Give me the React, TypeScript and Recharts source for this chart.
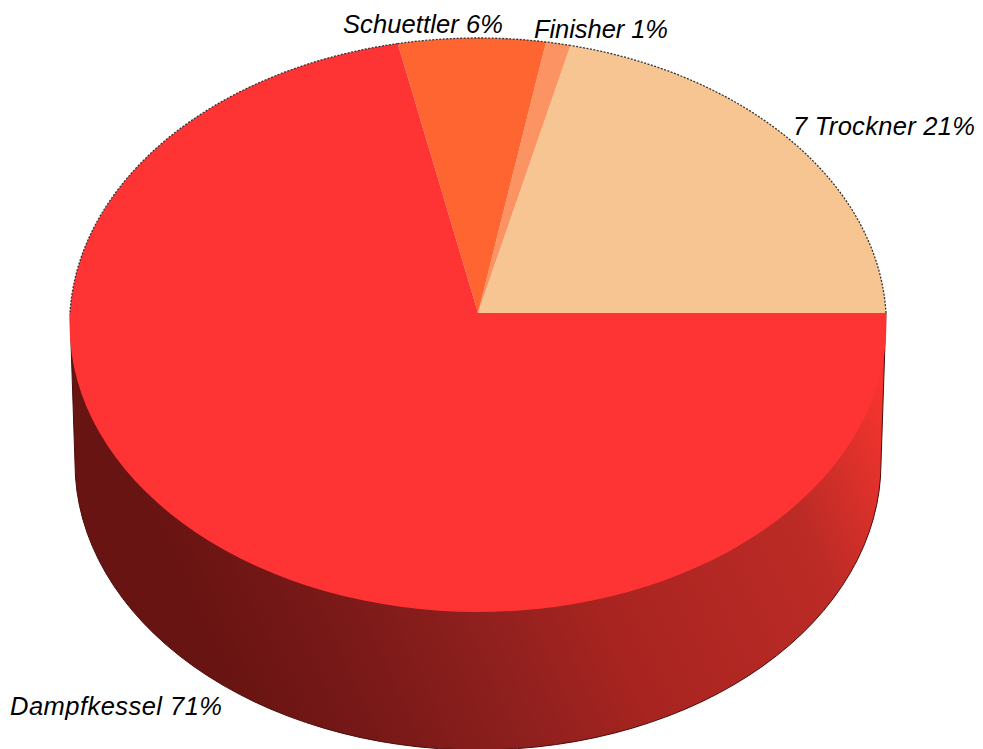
import React from 'react';
import { PieChart, Pie, Cell } from 'recharts';

const categories = ['7 Trockner', 'Finisher', 'Schuettler', 'Dampfkessel'];
const shares = [21, 1, 6, 71];
const colors = ['#f7c592', '#fc9363', '#fe6530', '#fe3333'];

const rows = categories.map((name, i) => ({ name, value: shares[i] }));

const WIDTH = 983;
const HEIGHT = 749;
const CX = 478;
const CY = 313;
const RX = 408;

// tilt of the disc: the far edge comes out a little shorter than the near edge
const TILT_RY = 286.5;
const TILT_P = 0.0418;
const TOP_RX = RX / Math.sqrt(1 - TILT_P * TILT_P);
const TOP_RY = 287;

// outline of the base of the cylinder
const BASE_CY = 463;
const BASE_RX = 403;
const BASE_RY = 287;

const labelSpots = [
  { x: 793, y: 135, w: 182 },
  { x: 534, y: 38, w: 134 },
  { x: 343, y: 33, w: 160 },
  { x: 10, y: 715, w: 212 },
];

const rad = (deg: number) => (deg * Math.PI) / 180;

const onTop = (deg: number) => {
  const v = Math.sin(rad(deg));
  const w = 1 + TILT_P * v;
  return { x: CX + (RX * Math.cos(rad(deg))) / w, y: CY - (TILT_RY * v) / w };
};

const onBase = (deg: number) => ({
  x: CX + BASE_RX * Math.cos(rad(deg)),
  y: BASE_CY - BASE_RY * Math.sin(rad(deg)),
});

const TopSlice = (props: any) => {
  const { startAngle, endAngle, fill } = props;
  const a = onTop(startAngle);
  const b = onTop(endAngle);
  const large = endAngle - startAngle > 180 ? 1 : 0;
  const d = `M${CX},${CY} L${a.x},${a.y} A${TOP_RX},${TOP_RY} 0 ${large} 0 ${b.x},${b.y} Z`;

  // the back rim carries a thin dotted edge
  const rimEnd = Math.min(endAngle, 180);
  let rim = null;
  if (startAngle < 180) {
    const r = onTop(rimEnd);
    rim = (
      <path
        d={`M${a.x},${a.y} A${TOP_RX},${TOP_RY} 0 0 0 ${r.x},${r.y}`}
        fill="none"
        stroke="#333"
        strokeWidth={1.3}
        strokeDasharray="2 1.5"
      />
    );
  }
  return (
    <g>
      <path d={d} fill={fill} stroke="none" />
      {rim}
    </g>
  );
};

// side wall, only the part of a slice that faces the viewer
const WallSlice = (props: any) => {
  const from = Math.max(props.startAngle, 180);
  const to = Math.min(props.endAngle, 360);
  if (to <= from) return null;
  const a = onTop(from);
  const b = onTop(to);
  const c = onBase(to);
  const e = onBase(from);
  const d =
    `M${a.x},${a.y} A${TOP_RX},${TOP_RY} 0 0 0 ${b.x},${b.y} ` +
    `L${c.x},${c.y} A${BASE_RX},${BASE_RY} 0 0 1 ${e.x},${e.y} Z`;
  return (
    <g>
      <path d={d} fill="url(#wallShade)" stroke="none" />
      <path
        d={`M${a.x},${a.y} L${e.x},${e.y} A${BASE_RX},${BASE_RY} 0 0 0 ${c.x},${c.y} L${b.x},${b.y}`}
        fill="none"
        stroke="#4a0e0c"
        strokeWidth={1}
      />
    </g>
  );
};

const SliceLabel = (props: any) => {
  const spot = labelSpots[props.index];
  return (
    <text
      x={spot.x}
      y={spot.y}
      fontFamily="'Liberation Sans', Arial, sans-serif"
      fontStyle="italic"
      fontSize={25.5}
      fill="#000"
      textAnchor="start"
      textLength={spot.w}
      lengthAdjust="spacing"
    >
      {`${props.name} ${props.value}%`}
    </text>
  );
};

export default function App() {
  return (
    <div style={{ position: 'absolute', left: 0, top: 0, width: WIDTH, height: HEIGHT, background: '#fff' }}>
      <PieChart width={WIDTH} height={HEIGHT} margin={{ top: 0, right: 0, bottom: 0, left: 0 }}>
        <defs>
          <linearGradient id="wallShade" gradientUnits="userSpaceOnUse" x1="230" y1="700" x2="890" y2="400">
            <stop offset="0" stopColor="#681412" />
            <stop offset="0.15" stopColor="#761817" />
            <stop offset="0.36" stopColor="#8f201e" />
            <stop offset="0.52" stopColor="#a82420" />
            <stop offset="0.82" stopColor="#bc2b26" />
            <stop offset="0.91" stopColor="#d8302a" />
            <stop offset="1" stopColor="#f8342e" />
          </linearGradient>
        </defs>
        <Pie
          data={rows}
          dataKey="value"
          nameKey="name"
          cx={CX}
          cy={CY}
          outerRadius={RX}
          startAngle={0}
          endAngle={360}
          stroke="none"
          shape={WallSlice}
          isAnimationActive={false}
        />
        <Pie
          data={rows}
          dataKey="value"
          nameKey="name"
          cx={CX}
          cy={CY}
          outerRadius={RX}
          startAngle={0}
          endAngle={360}
          stroke="none"
          shape={TopSlice}
          label={SliceLabel}
          labelLine={false}
          isAnimationActive={false}
        >
          {rows.map((row, i) => (
            <Cell key={row.name} fill={colors[i]} />
          ))}
        </Pie>
      </PieChart>
    </div>
  );
}
